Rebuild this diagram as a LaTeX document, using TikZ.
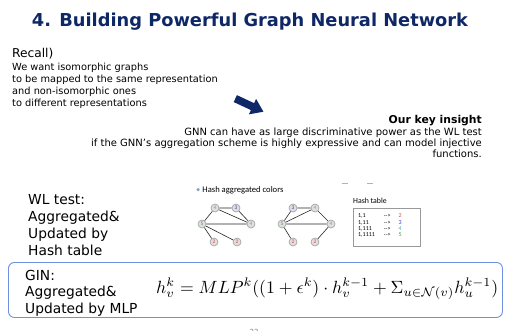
\documentclass[tikz,border=0pt]{standalone}
\usepackage{amsmath,amssymb}
\usepackage{graphicx}
\usepackage{fontspec}
\setmainfont{DejaVu Sans}
\newfontfamily\calfont{Carlito}
\usepackage{xcolor}
\usetikzlibrary{arrows.meta,positioning}

\definecolor{navy}{HTML}{0E2766}
\definecolor{lblue}{HTML}{5FA8C8}
\definecolor{nblue}{HTML}{3A3AE0}
\definecolor{ngreen}{HTML}{3FA040}
\definecolor{nred}{HTML}{E04848}
\definecolor{ginblue}{HTML}{6F8FE2}
\definecolor{bulletc}{HTML}{7FA7C8}

\tikzset{
  vtx/.style={circle,draw=gray!75,fill=gray!25,line width=0.6pt,inner sep=0pt,
    minimum size=8pt,font=\calfont\fontsize{5.5}{5.5}\selectfont},
  edge/.style={line width=0.6pt,black!85},
  txt/.style={anchor=base west,inner sep=0pt,align=left}
}

\begin{document}
\begin{tikzpicture}[x=1pt,y=-1pt]
  \useasboundingbox (0,0) rectangle (508,331);
  \fill[white] (0,0) rectangle (508,331);
  % title
  \node[anchor=base,inner sep=0pt,text=navy,font=\fontsize{17.8}{20}\bfseries\selectfont]
    (title) at (250,27) {4. Building Powerful Graph Neural Network};
  % recall (base = last line)
  \node[txt,font=\fontsize{12.2}{14}\selectfont] (recall) at (12,58) {Recall)};
  \node[txt,font=\fontsize{9.8}{12.3}\selectfont] (want) at (12,107)
    {We want isomorphic graphs\\to be mapped to the same representation\\
     and non-isomorphic ones\\to different representations};
  % big arrow
  \fill[navy,shift={(235.3,98.6)},rotate=-25]
    (0,-3.8) -- (19,-3.8) -- (19,-8.5) -- (31,0) -- (19,8.5) -- (19,3.8) -- (0,3.8) -- cycle;
  % key insight
  \node[anchor=base east,inner sep=0pt,font=\fontsize{10.8}{12}\bfseries\selectfont]
    (insight) at (482,124) {Our key insight};
  \node[anchor=base east,inner sep=0pt,align=right,font=\fontsize{10}{11}\selectfont]
    (gnn) at (482,158) {GNN can have as large discriminative power as the WL test\\
     if the GNN’s aggregation scheme is highly expressive and can model injective\\
     functions.};
  % WL test
  \node[txt,font=\fontsize{13.8}{16.7}\selectfont] (wl) at (28,255)
    {WL test:\\Aggregated\&\\Updated by\\Hash table};
  \node[anchor=base west,inner sep=0pt,font=\calfont\fontsize{8.6}{10}\selectfont]
    (hashcol) at (196,192) {\textcolor{bulletc}{\textbullet}\ Hash aggregated colors};
  \draw[gray!60,line width=0.7pt] (342,183.5) -- (348,183.5);
  \draw[gray!60,line width=0.7pt] (367,183.5) -- (373,183.5);
  % graph 1
  \node[vtx,text=lblue]  (a1) at (215,208) {4};
  \node[vtx,text=nblue]  (b1) at (236,208) {3};
  \node[vtx,text=ngreen] (c1) at (202,224) {5};
  \node[vtx,text=lblue]  (d1) at (251,224) {4};
  \node[vtx,text=nred]   (e1) at (214,242) {2};
  \node[vtx,text=nred]   (f1) at (237,242) {2};
  \draw[edge] (a1) -- (b1) (a1) -- (c1) (a1) -- (d1) (b1) -- (d1)
    (c1) -- (d1) (c1) -- (e1) (c1) -- (f1);
  % graph 2
  \node[vtx,text=nblue]  (a2) at (293,208) {3};
  \node[vtx,text=lblue]  (b2) at (315,208) {4};
  \node[vtx,text=ngreen] (c2) at (282,224) {5};
  \node[vtx,text=lblue]  (d2) at (331,224) {4};
  \node[vtx,text=nred]   (e2) at (293,242) {2};
  \node[vtx,text=nred]   (f2) at (315,242) {2};
  \draw[edge] (a2) -- (b2) (a2) -- (c2) (b2) -- (c2) (b2) -- (d2)
    (c2) -- (d2) (c2) -- (e2) (d2) -- (f2);
  % hash table
  \node[anchor=base west,inner sep=0pt,font=\calfont\fontsize{7.8}{9}\selectfont]
    (hashlbl) at (353,204) {Hash table};
  \node[draw=gray!80,line width=1.1pt,anchor=north west,minimum width=67pt,minimum height=38pt,
    inner sep=0pt] (hashbox) at (353,208) {};
  \node[anchor=north west,inner sep=0pt,font=\calfont\fontsize{6}{6.4}\selectfont]
    (hashrows) at (358,213)
    {\begin{tabular}{@{}l@{\hspace{9pt}}l@{\hspace{8pt}}l@{}}
      1,1 & -{}-> & \textcolor{nred}{2}\\
      1,11 & -{}-> & \textcolor{nblue}{3}\\
      1,111 & -{}-> & \textcolor{lblue}{4}\\
      1,1111 & -{}-> & \textcolor{ngreen}{5}
    \end{tabular}};
  % GIN
  \node[draw=ginblue,line width=0.9pt,rounded corners=6pt,anchor=north west,
    minimum width=494pt,minimum height=55pt,inner sep=0pt] (ginbox) at (8,262) {};
  \node[txt,font=\fontsize{13.8}{16.5}\selectfont] (gin) at (25,313)
    {GIN:\\Aggregated\&\\Updated by MLP};
  \node[anchor=base west,inner sep=0pt] (formula) at (156,293)
    {\resizebox{342pt}{!}{$h_v^k = MLP^k((1+\epsilon^k)\cdot h_v^{k-1}
      + \Sigma_{u\in\mathcal{N}(v)} h_u^{k-1})$}};
  \node[anchor=base,inner sep=0pt,text=gray,font=\fontsize{7}{7}\selectfont] (page) at (254,334.5) {22};
\end{tikzpicture}
\end{document}
